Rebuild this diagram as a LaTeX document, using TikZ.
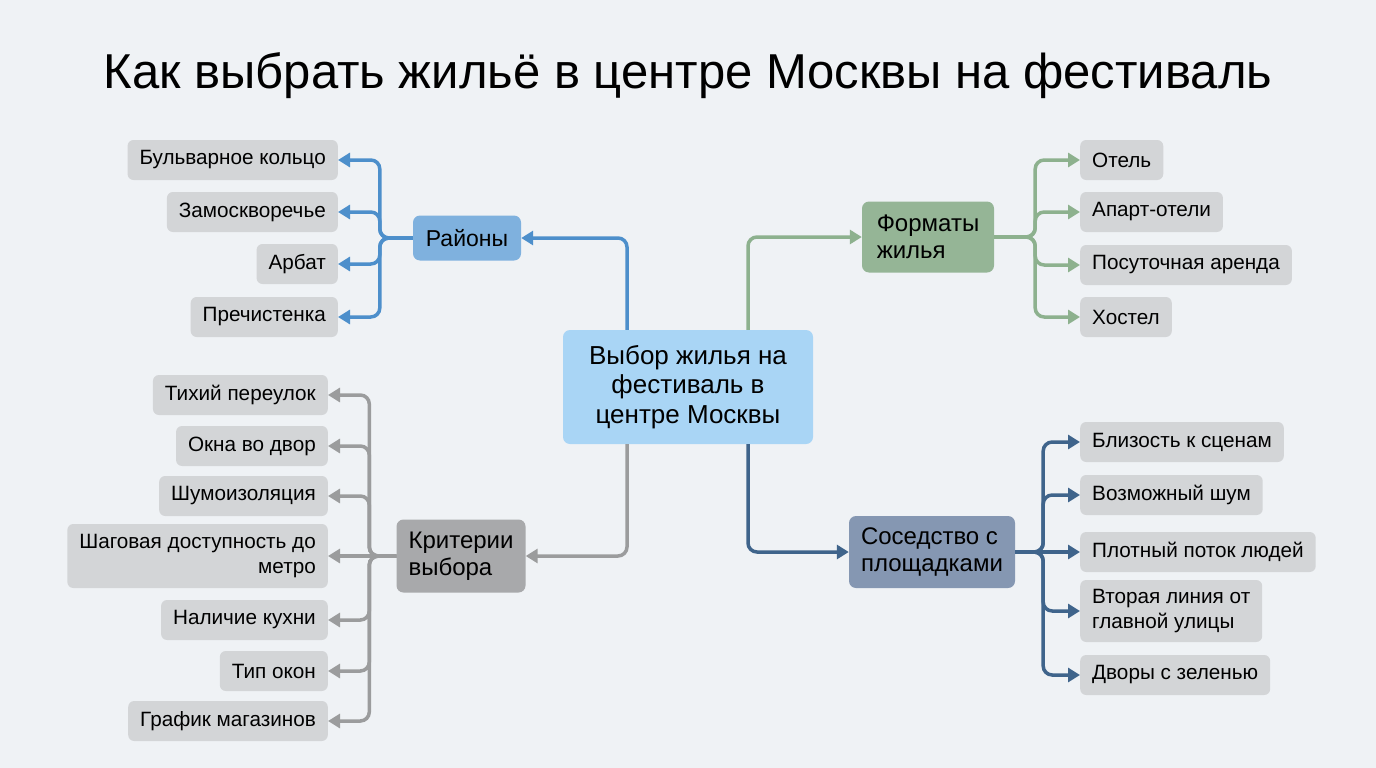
\documentclass[tikz,border=0pt]{standalone}
\usepackage{fontspec}
\setmainfont{Liberation Sans}
\usetikzlibrary{arrows.meta}

\definecolor{bgcol}{HTML}{EFF2F5}
\definecolor{leafgray}{HTML}{D3D5D7}
\definecolor{centrefill}{HTML}{A9D5F5}
\definecolor{rayfill}{HTML}{7FB1DE}
\definecolor{rayline}{HTML}{4D8FCB}
\definecolor{formfill}{HTML}{95B596}
\definecolor{formline}{HTML}{8DB18E}
\definecolor{sosfill}{HTML}{8597B2}
\definecolor{sosline}{HTML}{3F648B}
\definecolor{kritfill}{HTML}{A8A9AB}
\definecolor{kritline}{HTML}{9B9C9D}

\tikzset{
  leaf/.style={fill=leafgray, rounded corners=6pt, minimum height=40pt, inner xsep=12pt, inner ysep=4pt, font=\fontsize{20.7}{25}\selectfont},
  hub/.style={rounded corners=7pt, inner xsep=12pt, font=\fontsize{24}{27}\selectfont, align=left},
  link/.style={line width=3.5pt, rounded corners=9pt, -{Triangle[length=12pt,width=14pt]}}
}

\begin{document}
\begin{tikzpicture}[x=1pt,y=-1pt]
	\fill[bgcol] (0,0) rectangle (1376,768);
	
	\node (title) at (688,76) {\fontsize{49}{58}\selectfont Как выбрать жильё в центре Москвы на фестиваль};
	
	% centre
	\node[hub, fill=centrefill, align=center, minimum width=250pt, minimum height=114pt, font=\fontsize{26}{29.5}\selectfont] (centre) at (688,387) {Выбор жилья на\\фестиваль в\\центре Москвы};
	
	% hubs
	\node[hub, fill=rayfill, minimum width=108pt, minimum height=45pt, align=center, font=\fontsize{23}{27}\selectfont] (rayony) at (467,238) {Районы};
	\node[hub, fill=formfill, minimum width=132pt, minimum height=71pt] (formaty) at (928,237) {Форматы\\жилья};
	\node[hub, fill=sosfill, minimum width=165pt, minimum height=72pt] (sosed) at (932,552) {Соседство с\\площадками};
	\node[hub, fill=kritfill, minimum width=129pt, minimum height=73pt] (krit) at (461,556) {Критерии\\выбора};
	
	% districts
	\node[leaf, anchor=east] (bulv) at (338,160) {Бульварное кольцо};
	\node[leaf, anchor=east] (zamosk) at (338,212) {Замоскворечье};
	\node[leaf, anchor=east] (arbat) at (338,264) {Арбат};
	\node[leaf, anchor=east] (prech) at (338,317) {Пречистенка};
	
	% formats
	\node[leaf, anchor=west] (otel) at (1080,160) {Отель};
	\node[leaf, anchor=west] (apart) at (1080,212) {Апарт-отели};
	\node[leaf, anchor=west] (posut) at (1080,265) {Посуточная аренда};
	\node[leaf, anchor=west] (hostel) at (1080,317) {Хостел};
	
	% neighbourhood
	\node[leaf, anchor=west] (blizost) at (1080,442) {Близость к сценам};
	\node[leaf, anchor=west] (shum) at (1080,495) {Возможный шум};
	\node[leaf, anchor=west] (potok) at (1080,552) {Плотный поток людей};
	\node[leaf, anchor=west, align=left, minimum height=62pt] (vtoraya) at (1080,611) {Вторая линия от\\главной улицы};
	\node[leaf, anchor=west] (dvory) at (1080,675) {Дворы с зеленью};
	
	% criteria
	\node[leaf, anchor=east] (tihiy) at (328,395) {Тихий переулок};
	\node[leaf, anchor=east] (okna) at (328,446) {Окна во двор};
	\node[leaf, anchor=east] (shumoiz) at (328,496) {Шумоизоляция};
	\node[leaf, anchor=east, align=right, minimum height=64pt] (shag) at (328,556) {Шаговая доступность до\\метро};
	\node[leaf, anchor=east] (kuhnya) at (328,620) {Наличие кухни};
	\node[leaf, anchor=east] (tipokon) at (328,671) {Тип окон};
	\node[leaf, anchor=east] (grafik) at (328,721) {График магазинов};
	
	% centre to hubs
	\draw[link, rayline] ([xshift=-61pt]centre.north) |- (rayony.east);
	\draw[link, formline] ([xshift=60pt]centre.north) |- (formaty.west);
	\draw[link, sosline] ([xshift=60pt]centre.south) |- (sosed.west);
	\draw[link, kritline] ([xshift=-61pt]centre.south) |- (krit.east);
	
	% hubs to leaves
	\draw[link, rayline] (rayony.west) -- ++(-33,0) |- (bulv.east);
	\draw[link, rayline] (rayony.west) -- ++(-33,0) |- (zamosk.east);
	\draw[link, rayline] (rayony.west) -- ++(-33,0) |- (arbat.east);
	\draw[link, rayline] (rayony.west) -- ++(-33,0) |- (prech.east);
	
	\draw[link, formline] (formaty.east) -- ++(41,0) |- (otel.west);
	\draw[link, formline] (formaty.east) -- ++(41,0) |- (apart.west);
	\draw[link, formline] (formaty.east) -- ++(41,0) |- (posut.west);
	\draw[link, formline] (formaty.east) -- ++(41,0) |- (hostel.west);
	
	\draw[link, sosline] (sosed.east) -- ++(28,0) |- (blizost.west);
	\draw[link, sosline] (sosed.east) -- ++(28,0) |- (shum.west);
	\draw[link, sosline] (sosed.east) -- (potok.west);
	\draw[link, sosline] (sosed.east) -- ++(28,0) |- (vtoraya.west);
	\draw[link, sosline] (sosed.east) -- ++(28,0) |- (dvory.west);
	
	\draw[link, kritline] (krit.west) -- ++(-27,0) |- (tihiy.east);
	\draw[link, kritline] (krit.west) -- ++(-27,0) |- (okna.east);
	\draw[link, kritline] (krit.west) -- ++(-27,0) |- (shumoiz.east);
	\draw[link, kritline] (krit.west) -- (shag.east);
	\draw[link, kritline] (krit.west) -- ++(-27,0) |- (kuhnya.east);
	\draw[link, kritline] (krit.west) -- ++(-27,0) |- (tipokon.east);
	\draw[link, kritline] (krit.west) -- ++(-27,0) |- (grafik.east);
\end{tikzpicture}
\end{document}
